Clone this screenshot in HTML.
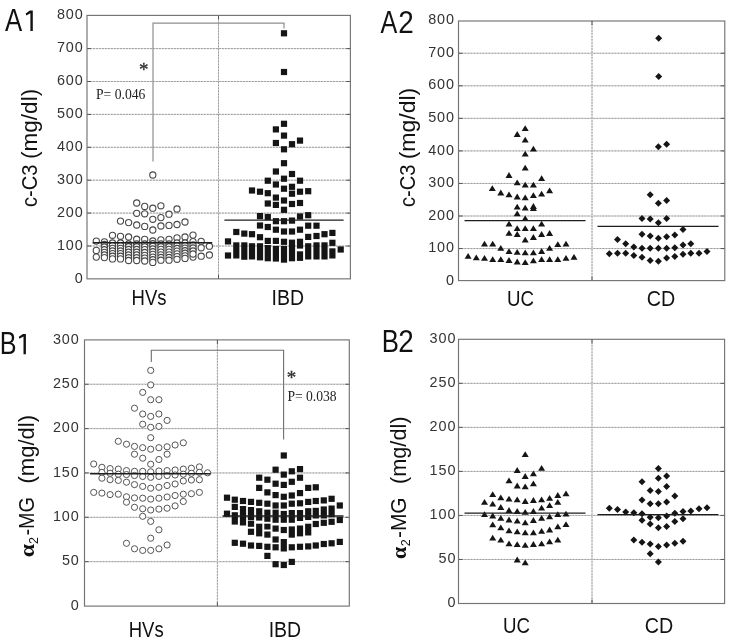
<!DOCTYPE html>
<html><head><meta charset="utf-8"><style>
html,body{margin:0;padding:0;background:#fff;width:731px;height:642px;overflow:hidden}
svg{display:block;font-family:"Liberation Sans",sans-serif;will-change:transform}
</style></head><body>
<svg width="731" height="642" viewBox="0 0 731 642">
<rect width="731" height="642" fill="#fff"/>
<line x1="87" y1="246" x2="350.4" y2="246" stroke="#d6d6d6" stroke-width="1"/>
<line x1="87" y1="246" x2="350.4" y2="246" stroke="#959595" stroke-width="0.9" stroke-dasharray="1.8 1.2"/>
<line x1="87" y1="246" x2="91" y2="246" stroke="#555" stroke-width="1"/>
<line x1="346.4" y1="246" x2="350.4" y2="246" stroke="#555" stroke-width="1"/>
<line x1="87" y1="213.1" x2="350.4" y2="213.1" stroke="#d6d6d6" stroke-width="1"/>
<line x1="87" y1="213.1" x2="350.4" y2="213.1" stroke="#959595" stroke-width="0.9" stroke-dasharray="1.8 1.2"/>
<line x1="87" y1="213.1" x2="91" y2="213.1" stroke="#555" stroke-width="1"/>
<line x1="346.4" y1="213.1" x2="350.4" y2="213.1" stroke="#555" stroke-width="1"/>
<line x1="87" y1="180.2" x2="350.4" y2="180.2" stroke="#d6d6d6" stroke-width="1"/>
<line x1="87" y1="180.2" x2="350.4" y2="180.2" stroke="#959595" stroke-width="0.9" stroke-dasharray="1.8 1.2"/>
<line x1="87" y1="180.2" x2="91" y2="180.2" stroke="#555" stroke-width="1"/>
<line x1="346.4" y1="180.2" x2="350.4" y2="180.2" stroke="#555" stroke-width="1"/>
<line x1="87" y1="147.3" x2="350.4" y2="147.3" stroke="#d6d6d6" stroke-width="1"/>
<line x1="87" y1="147.3" x2="350.4" y2="147.3" stroke="#959595" stroke-width="0.9" stroke-dasharray="1.8 1.2"/>
<line x1="87" y1="147.3" x2="91" y2="147.3" stroke="#555" stroke-width="1"/>
<line x1="346.4" y1="147.3" x2="350.4" y2="147.3" stroke="#555" stroke-width="1"/>
<line x1="87" y1="114.4" x2="350.4" y2="114.4" stroke="#d6d6d6" stroke-width="1"/>
<line x1="87" y1="114.4" x2="350.4" y2="114.4" stroke="#959595" stroke-width="0.9" stroke-dasharray="1.8 1.2"/>
<line x1="87" y1="114.4" x2="91" y2="114.4" stroke="#555" stroke-width="1"/>
<line x1="346.4" y1="114.4" x2="350.4" y2="114.4" stroke="#555" stroke-width="1"/>
<line x1="87" y1="81.5" x2="350.4" y2="81.5" stroke="#d6d6d6" stroke-width="1"/>
<line x1="87" y1="81.5" x2="350.4" y2="81.5" stroke="#959595" stroke-width="0.9" stroke-dasharray="1.8 1.2"/>
<line x1="87" y1="81.5" x2="91" y2="81.5" stroke="#555" stroke-width="1"/>
<line x1="346.4" y1="81.5" x2="350.4" y2="81.5" stroke="#555" stroke-width="1"/>
<line x1="87" y1="48.6" x2="350.4" y2="48.6" stroke="#d6d6d6" stroke-width="1"/>
<line x1="87" y1="48.6" x2="350.4" y2="48.6" stroke="#959595" stroke-width="0.9" stroke-dasharray="1.8 1.2"/>
<line x1="87" y1="48.6" x2="91" y2="48.6" stroke="#555" stroke-width="1"/>
<line x1="346.4" y1="48.6" x2="350.4" y2="48.6" stroke="#555" stroke-width="1"/>
<line x1="218.5" y1="15.4" x2="218.5" y2="278.85" stroke="#d6d6d6" stroke-width="1"/>
<line x1="218.5" y1="15.4" x2="218.5" y2="278.85" stroke="#959595" stroke-width="0.9" stroke-dasharray="1.8 1.2"/>
<line x1="218.5" y1="15.4" x2="218.5" y2="19.4" stroke="#555" stroke-width="1"/>
<line x1="218.5" y1="274.85" x2="218.5" y2="278.85" stroke="#555" stroke-width="1"/>
<rect x="87" y="15.4" width="263.4" height="263.45" fill="none" stroke="#737373" stroke-width="1.15"/>
<line x1="458.5" y1="248.55" x2="724.8" y2="248.55" stroke="#d6d6d6" stroke-width="1"/>
<line x1="458.5" y1="248.55" x2="724.8" y2="248.55" stroke="#959595" stroke-width="0.9" stroke-dasharray="1.8 1.2"/>
<line x1="458.5" y1="248.55" x2="462.5" y2="248.55" stroke="#555" stroke-width="1"/>
<line x1="720.8" y1="248.55" x2="724.8" y2="248.55" stroke="#555" stroke-width="1"/>
<line x1="458.5" y1="216" x2="724.8" y2="216" stroke="#d6d6d6" stroke-width="1"/>
<line x1="458.5" y1="216" x2="724.8" y2="216" stroke="#959595" stroke-width="0.9" stroke-dasharray="1.8 1.2"/>
<line x1="458.5" y1="216" x2="462.5" y2="216" stroke="#555" stroke-width="1"/>
<line x1="720.8" y1="216" x2="724.8" y2="216" stroke="#555" stroke-width="1"/>
<line x1="458.5" y1="183.45" x2="724.8" y2="183.45" stroke="#d6d6d6" stroke-width="1"/>
<line x1="458.5" y1="183.45" x2="724.8" y2="183.45" stroke="#959595" stroke-width="0.9" stroke-dasharray="1.8 1.2"/>
<line x1="458.5" y1="183.45" x2="462.5" y2="183.45" stroke="#555" stroke-width="1"/>
<line x1="720.8" y1="183.45" x2="724.8" y2="183.45" stroke="#555" stroke-width="1"/>
<line x1="458.5" y1="150.9" x2="724.8" y2="150.9" stroke="#d6d6d6" stroke-width="1"/>
<line x1="458.5" y1="150.9" x2="724.8" y2="150.9" stroke="#959595" stroke-width="0.9" stroke-dasharray="1.8 1.2"/>
<line x1="458.5" y1="150.9" x2="462.5" y2="150.9" stroke="#555" stroke-width="1"/>
<line x1="720.8" y1="150.9" x2="724.8" y2="150.9" stroke="#555" stroke-width="1"/>
<line x1="458.5" y1="118.35" x2="724.8" y2="118.35" stroke="#d6d6d6" stroke-width="1"/>
<line x1="458.5" y1="118.35" x2="724.8" y2="118.35" stroke="#959595" stroke-width="0.9" stroke-dasharray="1.8 1.2"/>
<line x1="458.5" y1="118.35" x2="462.5" y2="118.35" stroke="#555" stroke-width="1"/>
<line x1="720.8" y1="118.35" x2="724.8" y2="118.35" stroke="#555" stroke-width="1"/>
<line x1="458.5" y1="85.8" x2="724.8" y2="85.8" stroke="#d6d6d6" stroke-width="1"/>
<line x1="458.5" y1="85.8" x2="724.8" y2="85.8" stroke="#959595" stroke-width="0.9" stroke-dasharray="1.8 1.2"/>
<line x1="458.5" y1="85.8" x2="462.5" y2="85.8" stroke="#555" stroke-width="1"/>
<line x1="720.8" y1="85.8" x2="724.8" y2="85.8" stroke="#555" stroke-width="1"/>
<line x1="458.5" y1="53.25" x2="724.8" y2="53.25" stroke="#d6d6d6" stroke-width="1"/>
<line x1="458.5" y1="53.25" x2="724.8" y2="53.25" stroke="#959595" stroke-width="0.9" stroke-dasharray="1.8 1.2"/>
<line x1="458.5" y1="53.25" x2="462.5" y2="53.25" stroke="#555" stroke-width="1"/>
<line x1="720.8" y1="53.25" x2="724.8" y2="53.25" stroke="#555" stroke-width="1"/>
<line x1="592" y1="21" x2="592" y2="280.6" stroke="#d6d6d6" stroke-width="1"/>
<line x1="592" y1="21" x2="592" y2="280.6" stroke="#959595" stroke-width="0.9" stroke-dasharray="1.8 1.2"/>
<line x1="592" y1="21" x2="592" y2="25" stroke="#555" stroke-width="1"/>
<line x1="592" y1="276.6" x2="592" y2="280.6" stroke="#555" stroke-width="1"/>
<rect x="458.5" y="21" width="266.3" height="259.6" fill="none" stroke="#737373" stroke-width="1.15"/>
<line x1="84.5" y1="561.65" x2="349.3" y2="561.65" stroke="#d6d6d6" stroke-width="1"/>
<line x1="84.5" y1="561.65" x2="349.3" y2="561.65" stroke="#959595" stroke-width="0.9" stroke-dasharray="1.8 1.2"/>
<line x1="84.5" y1="561.65" x2="88.5" y2="561.65" stroke="#555" stroke-width="1"/>
<line x1="345.3" y1="561.65" x2="349.3" y2="561.65" stroke="#555" stroke-width="1"/>
<line x1="84.5" y1="517.3" x2="349.3" y2="517.3" stroke="#d6d6d6" stroke-width="1"/>
<line x1="84.5" y1="517.3" x2="349.3" y2="517.3" stroke="#959595" stroke-width="0.9" stroke-dasharray="1.8 1.2"/>
<line x1="84.5" y1="517.3" x2="88.5" y2="517.3" stroke="#555" stroke-width="1"/>
<line x1="345.3" y1="517.3" x2="349.3" y2="517.3" stroke="#555" stroke-width="1"/>
<line x1="84.5" y1="472.95" x2="349.3" y2="472.95" stroke="#d6d6d6" stroke-width="1"/>
<line x1="84.5" y1="472.95" x2="349.3" y2="472.95" stroke="#959595" stroke-width="0.9" stroke-dasharray="1.8 1.2"/>
<line x1="84.5" y1="472.95" x2="88.5" y2="472.95" stroke="#555" stroke-width="1"/>
<line x1="345.3" y1="472.95" x2="349.3" y2="472.95" stroke="#555" stroke-width="1"/>
<line x1="84.5" y1="428.6" x2="349.3" y2="428.6" stroke="#d6d6d6" stroke-width="1"/>
<line x1="84.5" y1="428.6" x2="349.3" y2="428.6" stroke="#959595" stroke-width="0.9" stroke-dasharray="1.8 1.2"/>
<line x1="84.5" y1="428.6" x2="88.5" y2="428.6" stroke="#555" stroke-width="1"/>
<line x1="345.3" y1="428.6" x2="349.3" y2="428.6" stroke="#555" stroke-width="1"/>
<line x1="84.5" y1="384.25" x2="349.3" y2="384.25" stroke="#d6d6d6" stroke-width="1"/>
<line x1="84.5" y1="384.25" x2="349.3" y2="384.25" stroke="#959595" stroke-width="0.9" stroke-dasharray="1.8 1.2"/>
<line x1="84.5" y1="384.25" x2="88.5" y2="384.25" stroke="#555" stroke-width="1"/>
<line x1="345.3" y1="384.25" x2="349.3" y2="384.25" stroke="#555" stroke-width="1"/>
<line x1="217.4" y1="339.9" x2="217.4" y2="606.1" stroke="#d6d6d6" stroke-width="1"/>
<line x1="217.4" y1="339.9" x2="217.4" y2="606.1" stroke="#959595" stroke-width="0.9" stroke-dasharray="1.8 1.2"/>
<line x1="217.4" y1="339.9" x2="217.4" y2="343.9" stroke="#555" stroke-width="1"/>
<line x1="217.4" y1="602.1" x2="217.4" y2="606.1" stroke="#555" stroke-width="1"/>
<rect x="84.5" y="339.9" width="264.8" height="266.2" fill="none" stroke="#737373" stroke-width="1.15"/>
<line x1="458.5" y1="559.47" x2="724.6" y2="559.47" stroke="#d6d6d6" stroke-width="1"/>
<line x1="458.5" y1="559.47" x2="724.6" y2="559.47" stroke="#959595" stroke-width="0.9" stroke-dasharray="1.8 1.2"/>
<line x1="458.5" y1="559.47" x2="462.5" y2="559.47" stroke="#555" stroke-width="1"/>
<line x1="720.6" y1="559.47" x2="724.6" y2="559.47" stroke="#555" stroke-width="1"/>
<line x1="458.5" y1="515.44" x2="724.6" y2="515.44" stroke="#d6d6d6" stroke-width="1"/>
<line x1="458.5" y1="515.44" x2="724.6" y2="515.44" stroke="#959595" stroke-width="0.9" stroke-dasharray="1.8 1.2"/>
<line x1="458.5" y1="515.44" x2="462.5" y2="515.44" stroke="#555" stroke-width="1"/>
<line x1="720.6" y1="515.44" x2="724.6" y2="515.44" stroke="#555" stroke-width="1"/>
<line x1="458.5" y1="471.41" x2="724.6" y2="471.41" stroke="#d6d6d6" stroke-width="1"/>
<line x1="458.5" y1="471.41" x2="724.6" y2="471.41" stroke="#959595" stroke-width="0.9" stroke-dasharray="1.8 1.2"/>
<line x1="458.5" y1="471.41" x2="462.5" y2="471.41" stroke="#555" stroke-width="1"/>
<line x1="720.6" y1="471.41" x2="724.6" y2="471.41" stroke="#555" stroke-width="1"/>
<line x1="458.5" y1="427.38" x2="724.6" y2="427.38" stroke="#d6d6d6" stroke-width="1"/>
<line x1="458.5" y1="427.38" x2="724.6" y2="427.38" stroke="#959595" stroke-width="0.9" stroke-dasharray="1.8 1.2"/>
<line x1="458.5" y1="427.38" x2="462.5" y2="427.38" stroke="#555" stroke-width="1"/>
<line x1="720.6" y1="427.38" x2="724.6" y2="427.38" stroke="#555" stroke-width="1"/>
<line x1="458.5" y1="383.35" x2="724.6" y2="383.35" stroke="#d6d6d6" stroke-width="1"/>
<line x1="458.5" y1="383.35" x2="724.6" y2="383.35" stroke="#959595" stroke-width="0.9" stroke-dasharray="1.8 1.2"/>
<line x1="458.5" y1="383.35" x2="462.5" y2="383.35" stroke="#555" stroke-width="1"/>
<line x1="720.6" y1="383.35" x2="724.6" y2="383.35" stroke="#555" stroke-width="1"/>
<line x1="592" y1="339.3" x2="592" y2="603.5" stroke="#d6d6d6" stroke-width="1"/>
<line x1="592" y1="339.3" x2="592" y2="603.5" stroke="#959595" stroke-width="0.9" stroke-dasharray="1.8 1.2"/>
<line x1="592" y1="339.3" x2="592" y2="343.3" stroke="#555" stroke-width="1"/>
<line x1="592" y1="599.5" x2="592" y2="603.5" stroke="#555" stroke-width="1"/>
<rect x="458.5" y="339.3" width="266.1" height="264.2" fill="none" stroke="#737373" stroke-width="1.15"/>
<path d="M153 161.5V23.2H284V28.5" fill="none" stroke="#8e8e8e" stroke-width="1.2"/>
<path d="M151.3 362V350.3H283.6V439.5" fill="none" stroke="#6e6e6e" stroke-width="1.1"/>
<circle cx="152.8" cy="175" r="3.1" fill="#fff" stroke="#484848" stroke-width="1.1"/>
<circle cx="136.7" cy="203" r="3.1" fill="#fff" stroke="#484848" stroke-width="1.1"/>
<circle cx="144.7" cy="206.4" r="3.1" fill="#fff" stroke="#484848" stroke-width="1.1"/>
<circle cx="152.8" cy="208.2" r="3.1" fill="#fff" stroke="#484848" stroke-width="1.1"/>
<circle cx="160.9" cy="205.8" r="3.1" fill="#fff" stroke="#484848" stroke-width="1.1"/>
<circle cx="177" cy="209" r="3.1" fill="#fff" stroke="#484848" stroke-width="1.1"/>
<circle cx="136.7" cy="213.3" r="3.1" fill="#fff" stroke="#484848" stroke-width="1.1"/>
<circle cx="144.7" cy="213.8" r="3.1" fill="#fff" stroke="#484848" stroke-width="1.1"/>
<circle cx="169" cy="214.2" r="3.1" fill="#fff" stroke="#484848" stroke-width="1.1"/>
<circle cx="152.8" cy="219.3" r="3.1" fill="#fff" stroke="#484848" stroke-width="1.1"/>
<circle cx="160.9" cy="217.6" r="3.1" fill="#fff" stroke="#484848" stroke-width="1.1"/>
<circle cx="120.5" cy="221.1" r="3.1" fill="#fff" stroke="#484848" stroke-width="1.1"/>
<circle cx="128.6" cy="222.6" r="3.1" fill="#fff" stroke="#484848" stroke-width="1.1"/>
<circle cx="136.7" cy="225" r="3.1" fill="#fff" stroke="#484848" stroke-width="1.1"/>
<circle cx="144.7" cy="226.4" r="3.1" fill="#fff" stroke="#484848" stroke-width="1.1"/>
<circle cx="152.8" cy="230" r="3.1" fill="#fff" stroke="#484848" stroke-width="1.1"/>
<circle cx="160.9" cy="226" r="3.1" fill="#fff" stroke="#484848" stroke-width="1.1"/>
<circle cx="169" cy="225.4" r="3.1" fill="#fff" stroke="#484848" stroke-width="1.1"/>
<circle cx="177" cy="224.5" r="3.1" fill="#fff" stroke="#484848" stroke-width="1.1"/>
<circle cx="185" cy="222" r="3.1" fill="#fff" stroke="#484848" stroke-width="1.1"/>
<circle cx="112.5" cy="235.3" r="3.1" fill="#fff" stroke="#484848" stroke-width="1.1"/>
<circle cx="120.5" cy="236.3" r="3.1" fill="#fff" stroke="#484848" stroke-width="1.1"/>
<circle cx="128.6" cy="237" r="3.1" fill="#fff" stroke="#484848" stroke-width="1.1"/>
<circle cx="136.7" cy="239.2" r="3.1" fill="#fff" stroke="#484848" stroke-width="1.1"/>
<circle cx="144.7" cy="239.4" r="3.1" fill="#fff" stroke="#484848" stroke-width="1.1"/>
<circle cx="160.9" cy="239.8" r="3.1" fill="#fff" stroke="#484848" stroke-width="1.1"/>
<circle cx="169" cy="239.4" r="3.1" fill="#fff" stroke="#484848" stroke-width="1.1"/>
<circle cx="177" cy="237.9" r="3.1" fill="#fff" stroke="#484848" stroke-width="1.1"/>
<circle cx="185" cy="237" r="3.1" fill="#fff" stroke="#484848" stroke-width="1.1"/>
<circle cx="193" cy="235.1" r="3.1" fill="#fff" stroke="#484848" stroke-width="1.1"/>
<circle cx="104.4" cy="241.9" r="3.1" fill="#fff" stroke="#484848" stroke-width="1.1"/>
<circle cx="201.2" cy="241.3" r="3.1" fill="#fff" stroke="#484848" stroke-width="1.1"/>
<circle cx="96.3" cy="241.1" r="3.1" fill="#fff" stroke="#484848" stroke-width="1.1"/>
<circle cx="96.3" cy="250.4" r="3.1" fill="#fff" stroke="#484848" stroke-width="1.1"/>
<circle cx="96.3" cy="257.1" r="3.1" fill="#fff" stroke="#484848" stroke-width="1.1"/>
<circle cx="193" cy="241.6" r="3.1" fill="#fff" stroke="#484848" stroke-width="1.1"/>
<circle cx="193" cy="249.6" r="3.1" fill="#fff" stroke="#484848" stroke-width="1.1"/>
<circle cx="193" cy="257.1" r="3.1" fill="#fff" stroke="#484848" stroke-width="1.1"/>
<circle cx="201.2" cy="247.8" r="3.1" fill="#fff" stroke="#484848" stroke-width="1.1"/>
<circle cx="201.2" cy="256.2" r="3.1" fill="#fff" stroke="#484848" stroke-width="1.1"/>
<circle cx="209.4" cy="246.2" r="3.1" fill="#fff" stroke="#484848" stroke-width="1.1"/>
<circle cx="209.4" cy="255" r="3.1" fill="#fff" stroke="#484848" stroke-width="1.1"/>
<circle cx="104.4" cy="244.5" r="3.1" fill="#fff" stroke="#484848" stroke-width="1.1"/>
<circle cx="104.4" cy="247.12" r="3.1" fill="#fff" stroke="#484848" stroke-width="1.1"/>
<circle cx="104.4" cy="249.74" r="3.1" fill="#fff" stroke="#484848" stroke-width="1.1"/>
<circle cx="104.4" cy="252.36" r="3.1" fill="#fff" stroke="#484848" stroke-width="1.1"/>
<circle cx="104.4" cy="254.98" r="3.1" fill="#fff" stroke="#484848" stroke-width="1.1"/>
<circle cx="104.4" cy="257.6" r="3.1" fill="#fff" stroke="#484848" stroke-width="1.1"/>
<circle cx="112.5" cy="243" r="3.1" fill="#fff" stroke="#484848" stroke-width="1.1"/>
<circle cx="112.5" cy="245.65" r="3.1" fill="#fff" stroke="#484848" stroke-width="1.1"/>
<circle cx="112.5" cy="248.3" r="3.1" fill="#fff" stroke="#484848" stroke-width="1.1"/>
<circle cx="112.5" cy="250.95" r="3.1" fill="#fff" stroke="#484848" stroke-width="1.1"/>
<circle cx="112.5" cy="253.6" r="3.1" fill="#fff" stroke="#484848" stroke-width="1.1"/>
<circle cx="112.5" cy="256.25" r="3.1" fill="#fff" stroke="#484848" stroke-width="1.1"/>
<circle cx="112.5" cy="258.9" r="3.1" fill="#fff" stroke="#484848" stroke-width="1.1"/>
<circle cx="120.5" cy="243" r="3.1" fill="#fff" stroke="#484848" stroke-width="1.1"/>
<circle cx="120.5" cy="245.65" r="3.1" fill="#fff" stroke="#484848" stroke-width="1.1"/>
<circle cx="120.5" cy="248.3" r="3.1" fill="#fff" stroke="#484848" stroke-width="1.1"/>
<circle cx="120.5" cy="250.95" r="3.1" fill="#fff" stroke="#484848" stroke-width="1.1"/>
<circle cx="120.5" cy="253.6" r="3.1" fill="#fff" stroke="#484848" stroke-width="1.1"/>
<circle cx="120.5" cy="256.25" r="3.1" fill="#fff" stroke="#484848" stroke-width="1.1"/>
<circle cx="120.5" cy="258.9" r="3.1" fill="#fff" stroke="#484848" stroke-width="1.1"/>
<circle cx="128.6" cy="244" r="3.1" fill="#fff" stroke="#484848" stroke-width="1.1"/>
<circle cx="128.6" cy="246.75" r="3.1" fill="#fff" stroke="#484848" stroke-width="1.1"/>
<circle cx="128.6" cy="249.5" r="3.1" fill="#fff" stroke="#484848" stroke-width="1.1"/>
<circle cx="128.6" cy="252.25" r="3.1" fill="#fff" stroke="#484848" stroke-width="1.1"/>
<circle cx="128.6" cy="255" r="3.1" fill="#fff" stroke="#484848" stroke-width="1.1"/>
<circle cx="128.6" cy="257.75" r="3.1" fill="#fff" stroke="#484848" stroke-width="1.1"/>
<circle cx="128.6" cy="260.5" r="3.1" fill="#fff" stroke="#484848" stroke-width="1.1"/>
<circle cx="136.7" cy="244" r="3.1" fill="#fff" stroke="#484848" stroke-width="1.1"/>
<circle cx="136.7" cy="246.75" r="3.1" fill="#fff" stroke="#484848" stroke-width="1.1"/>
<circle cx="136.7" cy="249.5" r="3.1" fill="#fff" stroke="#484848" stroke-width="1.1"/>
<circle cx="136.7" cy="252.25" r="3.1" fill="#fff" stroke="#484848" stroke-width="1.1"/>
<circle cx="136.7" cy="255" r="3.1" fill="#fff" stroke="#484848" stroke-width="1.1"/>
<circle cx="136.7" cy="257.75" r="3.1" fill="#fff" stroke="#484848" stroke-width="1.1"/>
<circle cx="136.7" cy="260.5" r="3.1" fill="#fff" stroke="#484848" stroke-width="1.1"/>
<circle cx="144.7" cy="244" r="3.1" fill="#fff" stroke="#484848" stroke-width="1.1"/>
<circle cx="144.7" cy="246.83" r="3.1" fill="#fff" stroke="#484848" stroke-width="1.1"/>
<circle cx="144.7" cy="249.67" r="3.1" fill="#fff" stroke="#484848" stroke-width="1.1"/>
<circle cx="144.7" cy="252.5" r="3.1" fill="#fff" stroke="#484848" stroke-width="1.1"/>
<circle cx="144.7" cy="255.33" r="3.1" fill="#fff" stroke="#484848" stroke-width="1.1"/>
<circle cx="144.7" cy="258.17" r="3.1" fill="#fff" stroke="#484848" stroke-width="1.1"/>
<circle cx="144.7" cy="261" r="3.1" fill="#fff" stroke="#484848" stroke-width="1.1"/>
<circle cx="152.8" cy="241" r="3.1" fill="#fff" stroke="#484848" stroke-width="1.1"/>
<circle cx="152.8" cy="243.68" r="3.1" fill="#fff" stroke="#484848" stroke-width="1.1"/>
<circle cx="152.8" cy="246.35" r="3.1" fill="#fff" stroke="#484848" stroke-width="1.1"/>
<circle cx="152.8" cy="249.02" r="3.1" fill="#fff" stroke="#484848" stroke-width="1.1"/>
<circle cx="152.8" cy="251.7" r="3.1" fill="#fff" stroke="#484848" stroke-width="1.1"/>
<circle cx="152.8" cy="254.38" r="3.1" fill="#fff" stroke="#484848" stroke-width="1.1"/>
<circle cx="152.8" cy="257.05" r="3.1" fill="#fff" stroke="#484848" stroke-width="1.1"/>
<circle cx="152.8" cy="259.72" r="3.1" fill="#fff" stroke="#484848" stroke-width="1.1"/>
<circle cx="152.8" cy="262.4" r="3.1" fill="#fff" stroke="#484848" stroke-width="1.1"/>
<circle cx="160.9" cy="244" r="3.1" fill="#fff" stroke="#484848" stroke-width="1.1"/>
<circle cx="160.9" cy="246.7" r="3.1" fill="#fff" stroke="#484848" stroke-width="1.1"/>
<circle cx="160.9" cy="249.4" r="3.1" fill="#fff" stroke="#484848" stroke-width="1.1"/>
<circle cx="160.9" cy="252.1" r="3.1" fill="#fff" stroke="#484848" stroke-width="1.1"/>
<circle cx="160.9" cy="254.8" r="3.1" fill="#fff" stroke="#484848" stroke-width="1.1"/>
<circle cx="160.9" cy="257.5" r="3.1" fill="#fff" stroke="#484848" stroke-width="1.1"/>
<circle cx="160.9" cy="260.2" r="3.1" fill="#fff" stroke="#484848" stroke-width="1.1"/>
<circle cx="169" cy="244" r="3.1" fill="#fff" stroke="#484848" stroke-width="1.1"/>
<circle cx="169" cy="246.7" r="3.1" fill="#fff" stroke="#484848" stroke-width="1.1"/>
<circle cx="169" cy="249.4" r="3.1" fill="#fff" stroke="#484848" stroke-width="1.1"/>
<circle cx="169" cy="252.1" r="3.1" fill="#fff" stroke="#484848" stroke-width="1.1"/>
<circle cx="169" cy="254.8" r="3.1" fill="#fff" stroke="#484848" stroke-width="1.1"/>
<circle cx="169" cy="257.5" r="3.1" fill="#fff" stroke="#484848" stroke-width="1.1"/>
<circle cx="169" cy="260.2" r="3.1" fill="#fff" stroke="#484848" stroke-width="1.1"/>
<circle cx="177" cy="243" r="3.1" fill="#fff" stroke="#484848" stroke-width="1.1"/>
<circle cx="177" cy="245.72" r="3.1" fill="#fff" stroke="#484848" stroke-width="1.1"/>
<circle cx="177" cy="248.43" r="3.1" fill="#fff" stroke="#484848" stroke-width="1.1"/>
<circle cx="177" cy="251.15" r="3.1" fill="#fff" stroke="#484848" stroke-width="1.1"/>
<circle cx="177" cy="253.87" r="3.1" fill="#fff" stroke="#484848" stroke-width="1.1"/>
<circle cx="177" cy="256.58" r="3.1" fill="#fff" stroke="#484848" stroke-width="1.1"/>
<circle cx="177" cy="259.3" r="3.1" fill="#fff" stroke="#484848" stroke-width="1.1"/>
<circle cx="185" cy="243" r="3.1" fill="#fff" stroke="#484848" stroke-width="1.1"/>
<circle cx="185" cy="245.57" r="3.1" fill="#fff" stroke="#484848" stroke-width="1.1"/>
<circle cx="185" cy="248.13" r="3.1" fill="#fff" stroke="#484848" stroke-width="1.1"/>
<circle cx="185" cy="250.7" r="3.1" fill="#fff" stroke="#484848" stroke-width="1.1"/>
<circle cx="185" cy="253.27" r="3.1" fill="#fff" stroke="#484848" stroke-width="1.1"/>
<circle cx="185" cy="255.83" r="3.1" fill="#fff" stroke="#484848" stroke-width="1.1"/>
<circle cx="185" cy="258.4" r="3.1" fill="#fff" stroke="#484848" stroke-width="1.1"/>
<circle cx="193" cy="245" r="3.1" fill="#fff" stroke="#484848" stroke-width="1.1"/>
<circle cx="193" cy="248" r="3.1" fill="#fff" stroke="#484848" stroke-width="1.1"/>
<circle cx="193" cy="251" r="3.1" fill="#fff" stroke="#484848" stroke-width="1.1"/>
<circle cx="193" cy="254" r="3.1" fill="#fff" stroke="#484848" stroke-width="1.1"/>
<rect x="280.9" y="30.2" width="6.2" height="6.2" fill="#151515"/>
<rect x="280.9" y="68.9" width="6.2" height="6.2" fill="#151515"/>
<rect x="280.9" y="120.7" width="6.2" height="6.2" fill="#151515"/>
<rect x="272.8" y="126.3" width="6.2" height="6.2" fill="#151515"/>
<rect x="280.9" y="132.5" width="6.2" height="6.2" fill="#151515"/>
<rect x="272.8" y="139.9" width="6.2" height="6.2" fill="#151515"/>
<rect x="288.9" y="141.1" width="6.2" height="6.2" fill="#151515"/>
<rect x="296.9" y="137.5" width="6.2" height="6.2" fill="#151515"/>
<rect x="280.9" y="146.2" width="6.2" height="6.2" fill="#151515"/>
<rect x="280.9" y="160.1" width="6.2" height="6.2" fill="#151515"/>
<rect x="272.8" y="168.4" width="6.2" height="6.2" fill="#151515"/>
<rect x="288.9" y="170.9" width="6.2" height="6.2" fill="#151515"/>
<rect x="264.7" y="177.6" width="6.2" height="6.2" fill="#151515"/>
<rect x="280.9" y="175.6" width="6.2" height="6.2" fill="#151515"/>
<rect x="296.9" y="177.6" width="6.2" height="6.2" fill="#151515"/>
<rect x="272.8" y="181.4" width="6.2" height="6.2" fill="#151515"/>
<rect x="288.9" y="183.7" width="6.2" height="6.2" fill="#151515"/>
<rect x="248.9" y="187.4" width="6.2" height="6.2" fill="#151515"/>
<rect x="256.9" y="188.6" width="6.2" height="6.2" fill="#151515"/>
<rect x="264.7" y="190.1" width="6.2" height="6.2" fill="#151515"/>
<rect x="280.9" y="185.6" width="6.2" height="6.2" fill="#151515"/>
<rect x="288.9" y="190.6" width="6.2" height="6.2" fill="#151515"/>
<rect x="296.9" y="188.6" width="6.2" height="6.2" fill="#151515"/>
<rect x="305.1" y="188.1" width="6.2" height="6.2" fill="#151515"/>
<rect x="272.8" y="194.5" width="6.2" height="6.2" fill="#151515"/>
<rect x="280.9" y="197.4" width="6.2" height="6.2" fill="#151515"/>
<rect x="264.7" y="200.4" width="6.2" height="6.2" fill="#151515"/>
<rect x="272.8" y="201.8" width="6.2" height="6.2" fill="#151515"/>
<rect x="288.9" y="200.9" width="6.2" height="6.2" fill="#151515"/>
<rect x="296.9" y="199.9" width="6.2" height="6.2" fill="#151515"/>
<rect x="280.9" y="206.7" width="6.2" height="6.2" fill="#151515"/>
<rect x="256.9" y="213" width="6.2" height="6.2" fill="#151515"/>
<rect x="264.7" y="213.9" width="6.2" height="6.2" fill="#151515"/>
<rect x="296.9" y="213.4" width="6.2" height="6.2" fill="#151515"/>
<rect x="305.1" y="212.1" width="6.2" height="6.2" fill="#151515"/>
<rect x="272.8" y="218.1" width="6.2" height="6.2" fill="#151515"/>
<rect x="280.9" y="218.1" width="6.2" height="6.2" fill="#151515"/>
<rect x="288.9" y="217.5" width="6.2" height="6.2" fill="#151515"/>
<rect x="256.9" y="222.4" width="6.2" height="6.2" fill="#151515"/>
<rect x="264.7" y="223.9" width="6.2" height="6.2" fill="#151515"/>
<rect x="305.1" y="222.6" width="6.2" height="6.2" fill="#151515"/>
<rect x="313.4" y="222.6" width="6.2" height="6.2" fill="#151515"/>
<rect x="272.8" y="226.6" width="6.2" height="6.2" fill="#151515"/>
<rect x="280.9" y="228.4" width="6.2" height="6.2" fill="#151515"/>
<rect x="288.9" y="228.4" width="6.2" height="6.2" fill="#151515"/>
<rect x="296.9" y="226.6" width="6.2" height="6.2" fill="#151515"/>
<rect x="233.2" y="228.9" width="6.2" height="6.2" fill="#151515"/>
<rect x="241.2" y="230.5" width="6.2" height="6.2" fill="#151515"/>
<rect x="248.9" y="231.1" width="6.2" height="6.2" fill="#151515"/>
<rect x="256.9" y="234.1" width="6.2" height="6.2" fill="#151515"/>
<rect x="305.1" y="233.8" width="6.2" height="6.2" fill="#151515"/>
<rect x="313.4" y="232.9" width="6.2" height="6.2" fill="#151515"/>
<rect x="321.4" y="231.1" width="6.2" height="6.2" fill="#151515"/>
<rect x="329.3" y="229.8" width="6.2" height="6.2" fill="#151515"/>
<rect x="224.9" y="238.3" width="6.2" height="6.2" fill="#151515"/>
<rect x="264.7" y="237.8" width="6.2" height="6.2" fill="#151515"/>
<rect x="272.8" y="237.8" width="6.2" height="6.2" fill="#151515"/>
<rect x="280.9" y="238.7" width="6.2" height="6.2" fill="#151515"/>
<rect x="329.3" y="239.7" width="6.2" height="6.2" fill="#151515"/>
<rect x="337.6" y="246.4" width="6.2" height="6.2" fill="#151515"/>
<rect x="224.9" y="252.4" width="6.2" height="6.2" fill="#151515"/>
<rect x="233.2" y="242.3" width="6.2" height="16.2" fill="#151515"/>
<rect x="241.2" y="242.3" width="6.2" height="17.5" fill="#151515"/>
<rect x="248.9" y="243.2" width="6.2" height="16.3" fill="#151515"/>
<rect x="256.9" y="243.2" width="6.2" height="17.2" fill="#151515"/>
<rect x="264.7" y="245" width="6.2" height="16.3" fill="#151515"/>
<rect x="272.8" y="245.9" width="6.2" height="15.7" fill="#151515"/>
<rect x="280.9" y="245.9" width="6.2" height="16.8" fill="#151515"/>
<rect x="288.9" y="239.6" width="6.2" height="21.7" fill="#151515"/>
<rect x="296.9" y="238.7" width="6.2" height="9.9" fill="#151515"/>
<rect x="296.9" y="251.3" width="6.2" height="9.6" fill="#151515"/>
<rect x="305.1" y="243.2" width="6.2" height="16.3" fill="#151515"/>
<rect x="313.4" y="242.3" width="6.2" height="17.2" fill="#151515"/>
<rect x="321.4" y="242.3" width="6.2" height="17.2" fill="#151515"/>
<rect x="329.3" y="248.3" width="6.2" height="10.2" fill="#151515"/>
<path d="M521.7 131.1L525.2 125.3L528.7 131.1Z" fill="#151515"/>
<path d="M513.7 136.9L517.2 131.1L520.7 136.9Z" fill="#151515"/>
<path d="M521.7 142.6L525.2 136.8L528.7 142.6Z" fill="#151515"/>
<path d="M529.9 151.5L533.4 145.7L536.9 151.5Z" fill="#151515"/>
<path d="M521.7 156.6L525.2 150.8L528.7 156.6Z" fill="#151515"/>
<path d="M521.7 170.6L525.2 164.8L528.7 170.6Z" fill="#151515"/>
<path d="M505.5 177.9L509 172.1L512.5 177.9Z" fill="#151515"/>
<path d="M538.1 181.1L541.6 175.3L545.1 181.1Z" fill="#151515"/>
<path d="M513.7 185.3L517.2 179.5L520.7 185.3Z" fill="#151515"/>
<path d="M521.7 187.5L525.2 181.7L528.7 187.5Z" fill="#151515"/>
<path d="M529.9 187.5L533.4 181.7L536.9 187.5Z" fill="#151515"/>
<path d="M488.8 191.1L492.3 185.3L495.8 191.1Z" fill="#151515"/>
<path d="M497.3 195.4L500.8 189.6L504.3 195.4Z" fill="#151515"/>
<path d="M505.5 197.3L509 191.5L512.5 197.3Z" fill="#151515"/>
<path d="M513.7 199.4L517.2 193.6L520.7 199.4Z" fill="#151515"/>
<path d="M521.7 200.2L525.2 194.4L528.7 200.2Z" fill="#151515"/>
<path d="M529.9 198L533.4 192.2L536.9 198Z" fill="#151515"/>
<path d="M538.1 196.5L541.6 190.7L545.1 196.5Z" fill="#151515"/>
<path d="M546.1 193.3L549.6 187.5L553.1 193.3Z" fill="#151515"/>
<path d="M513.7 209.6L517.2 203.8L520.7 209.6Z" fill="#151515"/>
<path d="M521.7 210.5L525.2 204.7L528.7 210.5Z" fill="#151515"/>
<path d="M529.9 208.9L533.4 203.1L536.9 208.9Z" fill="#151515"/>
<path d="M529.9 211.1L533.4 205.3L536.9 211.1Z" fill="#151515"/>
<path d="M513.7 216.2L517.2 210.4L520.7 216.2Z" fill="#151515"/>
<path d="M521.7 221.1L525.2 215.3L528.7 221.1Z" fill="#151515"/>
<path d="M505.5 226.6L509 220.8L512.5 226.6Z" fill="#151515"/>
<path d="M538.1 226.6L541.6 220.8L545.1 226.6Z" fill="#151515"/>
<path d="M513.7 231.1L517.2 225.3L520.7 231.1Z" fill="#151515"/>
<path d="M521.7 231.1L525.2 225.3L528.7 231.1Z" fill="#151515"/>
<path d="M529.9 231.1L533.4 225.3L536.9 231.1Z" fill="#151515"/>
<path d="M505.5 235.7L509 229.9L512.5 235.7Z" fill="#151515"/>
<path d="M513.7 236.9L517.2 231.1L520.7 236.9Z" fill="#151515"/>
<path d="M538.1 236.9L541.6 231.1L545.1 236.9Z" fill="#151515"/>
<path d="M546.1 235.9L549.6 230.1L553.1 235.9Z" fill="#151515"/>
<path d="M529.9 239.9L533.4 234.1L536.9 239.9Z" fill="#151515"/>
<path d="M521.7 242.6L525.2 236.8L528.7 242.6Z" fill="#151515"/>
<path d="M481 246.6L484.5 240.8L488 246.6Z" fill="#151515"/>
<path d="M489.2 246.6L492.7 240.8L496.2 246.6Z" fill="#151515"/>
<path d="M554.3 247.1L557.8 241.3L561.3 247.1Z" fill="#151515"/>
<path d="M562.5 246.6L566 240.8L569.5 246.6Z" fill="#151515"/>
<path d="M497.3 250.8L500.8 245L504.3 250.8Z" fill="#151515"/>
<path d="M546.1 250.8L549.6 245L553.1 250.8Z" fill="#151515"/>
<path d="M505.5 254L509 248.2L512.5 254Z" fill="#151515"/>
<path d="M513.7 254.8L517.2 249L520.7 254.8Z" fill="#151515"/>
<path d="M521.7 255.3L525.2 249.5L528.7 255.3Z" fill="#151515"/>
<path d="M529.9 255.3L533.4 249.5L536.9 255.3Z" fill="#151515"/>
<path d="M538.1 253.9L541.6 248.1L545.1 253.9Z" fill="#151515"/>
<path d="M464.6 258.8L468.1 253L471.6 258.8Z" fill="#151515"/>
<path d="M472.8 260.2L476.3 254.4L479.8 260.2Z" fill="#151515"/>
<path d="M481 260.8L484.5 255L488 260.8Z" fill="#151515"/>
<path d="M489.2 262L492.7 256.2L496.2 262Z" fill="#151515"/>
<path d="M497.3 262L500.8 256.2L504.3 262Z" fill="#151515"/>
<path d="M505.5 262.9L509 257.1L512.5 262.9Z" fill="#151515"/>
<path d="M513.7 264.4L517.2 258.6L520.7 264.4Z" fill="#151515"/>
<path d="M521.7 265.1L525.2 259.3L528.7 265.1Z" fill="#151515"/>
<path d="M529.9 263.3L533.4 257.5L536.9 263.3Z" fill="#151515"/>
<path d="M538.1 262L541.6 256.2L545.1 262Z" fill="#151515"/>
<path d="M546.1 262L549.6 256.2L553.1 262Z" fill="#151515"/>
<path d="M554.3 262L557.8 256.2L561.3 262Z" fill="#151515"/>
<path d="M562.5 260.8L566 255L569.5 260.8Z" fill="#151515"/>
<path d="M570.5 259.7L574 253.9L577.5 259.7Z" fill="#151515"/>
<path d="M658.7 34.8L662.2 38.3L658.7 41.8L655.2 38.3Z" fill="#151515"/>
<path d="M658.7 73.1L662.2 76.6L658.7 80.1L655.2 76.6Z" fill="#151515"/>
<path d="M658.4 143.2L661.9 146.7L658.4 150.2L654.9 146.7Z" fill="#151515"/>
<path d="M666.6 140.7L670.1 144.2L666.6 147.7L663.1 144.2Z" fill="#151515"/>
<path d="M650.2 191.3L653.7 194.8L650.2 198.3L646.7 194.8Z" fill="#151515"/>
<path d="M658.4 199.8L661.9 203.3L658.4 206.8L654.9 203.3Z" fill="#151515"/>
<path d="M666.6 196.9L670.1 200.4L666.6 203.9L663.1 200.4Z" fill="#151515"/>
<path d="M642 215.1L645.5 218.6L642 222.1L638.5 218.6Z" fill="#151515"/>
<path d="M650.2 215.6L653.7 219.1L650.2 222.6L646.7 219.1Z" fill="#151515"/>
<path d="M666.6 215.1L670.1 218.6L666.6 222.1L663.1 218.6Z" fill="#151515"/>
<path d="M658.4 219.3L661.9 222.8L658.4 226.3L654.9 222.8Z" fill="#151515"/>
<path d="M683 226L686.5 229.5L683 233L679.5 229.5Z" fill="#151515"/>
<path d="M642 230.7L645.5 234.2L642 237.7L638.5 234.2Z" fill="#151515"/>
<path d="M650.2 232.5L653.7 236L650.2 239.5L646.7 236Z" fill="#151515"/>
<path d="M658.4 234.7L661.9 238.2L658.4 241.7L654.9 238.2Z" fill="#151515"/>
<path d="M666.6 233.3L670.1 236.8L666.6 240.3L663.1 236.8Z" fill="#151515"/>
<path d="M674.8 231.6L678.3 235.1L674.8 238.6L671.3 235.1Z" fill="#151515"/>
<path d="M617.5 236L621 239.5L617.5 243L614 239.5Z" fill="#151515"/>
<path d="M625.7 240.2L629.2 243.7L625.7 247.2L622.2 243.7Z" fill="#151515"/>
<path d="M690.8 240.2L694.3 243.7L690.8 247.2L687.3 243.7Z" fill="#151515"/>
<path d="M633.8 243.5L637.3 247L633.8 250.5L630.3 247Z" fill="#151515"/>
<path d="M642 244.7L645.5 248.2L642 251.7L638.5 248.2Z" fill="#151515"/>
<path d="M650.2 244.7L653.7 248.2L650.2 251.7L646.7 248.2Z" fill="#151515"/>
<path d="M658.4 244.7L661.9 248.2L658.4 251.7L654.9 248.2Z" fill="#151515"/>
<path d="M666.6 244.7L670.1 248.2L666.6 251.7L663.1 248.2Z" fill="#151515"/>
<path d="M674.8 244.2L678.3 247.7L674.8 251.2L671.3 247.7Z" fill="#151515"/>
<path d="M683 241.6L686.5 245.1L683 248.6L679.5 245.1Z" fill="#151515"/>
<path d="M609.3 250.2L612.8 253.7L609.3 257.2L605.8 253.7Z" fill="#151515"/>
<path d="M617.5 249.8L621 253.3L617.5 256.8L614 253.3Z" fill="#151515"/>
<path d="M625.7 249.8L629.2 253.3L625.7 256.8L622.2 253.3Z" fill="#151515"/>
<path d="M633.8 252L637.3 255.5L633.8 259L630.3 255.5Z" fill="#151515"/>
<path d="M642 253.8L645.5 257.3L642 260.8L638.5 257.3Z" fill="#151515"/>
<path d="M650.2 256.9L653.7 260.4L650.2 263.9L646.7 260.4Z" fill="#151515"/>
<path d="M658.4 257.8L661.9 261.3L658.4 264.8L654.9 261.3Z" fill="#151515"/>
<path d="M666.6 254.4L670.1 257.9L666.6 261.4L663.1 257.9Z" fill="#151515"/>
<path d="M674.8 252.9L678.3 256.4L674.8 259.9L671.3 256.4Z" fill="#151515"/>
<path d="M683 250.7L686.5 254.2L683 257.7L679.5 254.2Z" fill="#151515"/>
<path d="M690.8 249.8L694.3 253.3L690.8 256.8L687.3 253.3Z" fill="#151515"/>
<path d="M699 249.8L702.5 253.3L699 256.8L695.5 253.3Z" fill="#151515"/>
<path d="M707 248L710.5 251.5L707 255L703.5 251.5Z" fill="#151515"/>
<circle cx="150.7" cy="370.4" r="3.1" fill="#fff" stroke="#555" stroke-width="1.0"/>
<circle cx="150.7" cy="384.9" r="3.1" fill="#fff" stroke="#555" stroke-width="1.0"/>
<circle cx="142.7" cy="392.4" r="3.1" fill="#fff" stroke="#555" stroke-width="1.0"/>
<circle cx="150.7" cy="399.7" r="3.1" fill="#fff" stroke="#555" stroke-width="1.0"/>
<circle cx="158.9" cy="399.7" r="3.1" fill="#fff" stroke="#555" stroke-width="1.0"/>
<circle cx="134.5" cy="408.2" r="3.1" fill="#fff" stroke="#555" stroke-width="1.0"/>
<circle cx="142.7" cy="414" r="3.1" fill="#fff" stroke="#555" stroke-width="1.0"/>
<circle cx="150.7" cy="416.4" r="3.1" fill="#fff" stroke="#555" stroke-width="1.0"/>
<circle cx="158.9" cy="414" r="3.1" fill="#fff" stroke="#555" stroke-width="1.0"/>
<circle cx="167.1" cy="420.4" r="3.1" fill="#fff" stroke="#555" stroke-width="1.0"/>
<circle cx="142.7" cy="424.2" r="3.1" fill="#fff" stroke="#555" stroke-width="1.0"/>
<circle cx="150.7" cy="427.3" r="3.1" fill="#fff" stroke="#555" stroke-width="1.0"/>
<circle cx="158.9" cy="426.4" r="3.1" fill="#fff" stroke="#555" stroke-width="1.0"/>
<circle cx="150.7" cy="437.7" r="3.1" fill="#fff" stroke="#555" stroke-width="1.0"/>
<circle cx="118.3" cy="441.3" r="3.1" fill="#fff" stroke="#555" stroke-width="1.0"/>
<circle cx="126.5" cy="444.2" r="3.1" fill="#fff" stroke="#555" stroke-width="1.0"/>
<circle cx="134.5" cy="446.4" r="3.1" fill="#fff" stroke="#555" stroke-width="1.0"/>
<circle cx="142.7" cy="447.7" r="3.1" fill="#fff" stroke="#555" stroke-width="1.0"/>
<circle cx="150.7" cy="449.2" r="3.1" fill="#fff" stroke="#555" stroke-width="1.0"/>
<circle cx="158.9" cy="447.7" r="3.1" fill="#fff" stroke="#555" stroke-width="1.0"/>
<circle cx="167.1" cy="446.8" r="3.1" fill="#fff" stroke="#555" stroke-width="1.0"/>
<circle cx="175.1" cy="445" r="3.1" fill="#fff" stroke="#555" stroke-width="1.0"/>
<circle cx="183.3" cy="442.8" r="3.1" fill="#fff" stroke="#555" stroke-width="1.0"/>
<circle cx="134.5" cy="454.2" r="3.1" fill="#fff" stroke="#555" stroke-width="1.0"/>
<circle cx="167.1" cy="454.2" r="3.1" fill="#fff" stroke="#555" stroke-width="1.0"/>
<circle cx="142.7" cy="458.2" r="3.1" fill="#fff" stroke="#555" stroke-width="1.0"/>
<circle cx="158.9" cy="459.5" r="3.1" fill="#fff" stroke="#555" stroke-width="1.0"/>
<circle cx="150.7" cy="464.2" r="3.1" fill="#fff" stroke="#555" stroke-width="1.0"/>
<circle cx="93.7" cy="464" r="3.1" fill="#fff" stroke="#555" stroke-width="1.0"/>
<circle cx="101.9" cy="467.3" r="3.1" fill="#fff" stroke="#555" stroke-width="1.0"/>
<circle cx="110.1" cy="468.6" r="3.1" fill="#fff" stroke="#555" stroke-width="1.0"/>
<circle cx="118.3" cy="469.1" r="3.1" fill="#fff" stroke="#555" stroke-width="1.0"/>
<circle cx="126.5" cy="470.6" r="3.1" fill="#fff" stroke="#555" stroke-width="1.0"/>
<circle cx="134.5" cy="471.3" r="3.1" fill="#fff" stroke="#555" stroke-width="1.0"/>
<circle cx="142.7" cy="471.3" r="3.1" fill="#fff" stroke="#555" stroke-width="1.0"/>
<circle cx="150.7" cy="471.8" r="3.1" fill="#fff" stroke="#555" stroke-width="1.0"/>
<circle cx="158.9" cy="471" r="3.1" fill="#fff" stroke="#555" stroke-width="1.0"/>
<circle cx="167.1" cy="470.6" r="3.1" fill="#fff" stroke="#555" stroke-width="1.0"/>
<circle cx="175.1" cy="470" r="3.1" fill="#fff" stroke="#555" stroke-width="1.0"/>
<circle cx="183.3" cy="469.1" r="3.1" fill="#fff" stroke="#555" stroke-width="1.0"/>
<circle cx="191.4" cy="468.2" r="3.1" fill="#fff" stroke="#555" stroke-width="1.0"/>
<circle cx="199.4" cy="466.9" r="3.1" fill="#fff" stroke="#555" stroke-width="1.0"/>
<circle cx="207.6" cy="472.8" r="3.1" fill="#fff" stroke="#555" stroke-width="1.0"/>
<circle cx="101.9" cy="472.4" r="3.1" fill="#fff" stroke="#555" stroke-width="1.0"/>
<circle cx="110.1" cy="473.3" r="3.1" fill="#fff" stroke="#555" stroke-width="1.0"/>
<circle cx="118.3" cy="474.2" r="3.1" fill="#fff" stroke="#555" stroke-width="1.0"/>
<circle cx="126.5" cy="474.6" r="3.1" fill="#fff" stroke="#555" stroke-width="1.0"/>
<circle cx="134.5" cy="475.5" r="3.1" fill="#fff" stroke="#555" stroke-width="1.0"/>
<circle cx="142.7" cy="476.4" r="3.1" fill="#fff" stroke="#555" stroke-width="1.0"/>
<circle cx="150.7" cy="477.3" r="3.1" fill="#fff" stroke="#555" stroke-width="1.0"/>
<circle cx="158.9" cy="476.4" r="3.1" fill="#fff" stroke="#555" stroke-width="1.0"/>
<circle cx="167.1" cy="475.5" r="3.1" fill="#fff" stroke="#555" stroke-width="1.0"/>
<circle cx="175.1" cy="475" r="3.1" fill="#fff" stroke="#555" stroke-width="1.0"/>
<circle cx="183.3" cy="474.2" r="3.1" fill="#fff" stroke="#555" stroke-width="1.0"/>
<circle cx="191.4" cy="473.3" r="3.1" fill="#fff" stroke="#555" stroke-width="1.0"/>
<circle cx="199.4" cy="472.4" r="3.1" fill="#fff" stroke="#555" stroke-width="1.0"/>
<circle cx="101.9" cy="478.2" r="3.1" fill="#fff" stroke="#555" stroke-width="1.0"/>
<circle cx="110.1" cy="479.7" r="3.1" fill="#fff" stroke="#555" stroke-width="1.0"/>
<circle cx="118.3" cy="480.4" r="3.1" fill="#fff" stroke="#555" stroke-width="1.0"/>
<circle cx="126.5" cy="482.2" r="3.1" fill="#fff" stroke="#555" stroke-width="1.0"/>
<circle cx="134.5" cy="484.6" r="3.1" fill="#fff" stroke="#555" stroke-width="1.0"/>
<circle cx="142.7" cy="486.4" r="3.1" fill="#fff" stroke="#555" stroke-width="1.0"/>
<circle cx="150.7" cy="488.2" r="3.1" fill="#fff" stroke="#555" stroke-width="1.0"/>
<circle cx="158.9" cy="487.3" r="3.1" fill="#fff" stroke="#555" stroke-width="1.0"/>
<circle cx="167.1" cy="485.5" r="3.1" fill="#fff" stroke="#555" stroke-width="1.0"/>
<circle cx="175.1" cy="484" r="3.1" fill="#fff" stroke="#555" stroke-width="1.0"/>
<circle cx="183.3" cy="481" r="3.1" fill="#fff" stroke="#555" stroke-width="1.0"/>
<circle cx="191.4" cy="480" r="3.1" fill="#fff" stroke="#555" stroke-width="1.0"/>
<circle cx="199.4" cy="479.7" r="3.1" fill="#fff" stroke="#555" stroke-width="1.0"/>
<circle cx="93.7" cy="492.4" r="3.1" fill="#fff" stroke="#555" stroke-width="1.0"/>
<circle cx="101.9" cy="493.1" r="3.1" fill="#fff" stroke="#555" stroke-width="1.0"/>
<circle cx="110.1" cy="494.6" r="3.1" fill="#fff" stroke="#555" stroke-width="1.0"/>
<circle cx="118.3" cy="494.2" r="3.1" fill="#fff" stroke="#555" stroke-width="1.0"/>
<circle cx="126.5" cy="496.8" r="3.1" fill="#fff" stroke="#555" stroke-width="1.0"/>
<circle cx="134.5" cy="497.9" r="3.1" fill="#fff" stroke="#555" stroke-width="1.0"/>
<circle cx="142.7" cy="498.2" r="3.1" fill="#fff" stroke="#555" stroke-width="1.0"/>
<circle cx="150.7" cy="499.1" r="3.1" fill="#fff" stroke="#555" stroke-width="1.0"/>
<circle cx="158.9" cy="498.2" r="3.1" fill="#fff" stroke="#555" stroke-width="1.0"/>
<circle cx="167.1" cy="497" r="3.1" fill="#fff" stroke="#555" stroke-width="1.0"/>
<circle cx="175.1" cy="495.5" r="3.1" fill="#fff" stroke="#555" stroke-width="1.0"/>
<circle cx="183.3" cy="494.2" r="3.1" fill="#fff" stroke="#555" stroke-width="1.0"/>
<circle cx="191.4" cy="493.7" r="3.1" fill="#fff" stroke="#555" stroke-width="1.0"/>
<circle cx="199.4" cy="492.4" r="3.1" fill="#fff" stroke="#555" stroke-width="1.0"/>
<circle cx="126.5" cy="502.2" r="3.1" fill="#fff" stroke="#555" stroke-width="1.0"/>
<circle cx="183.3" cy="501.5" r="3.1" fill="#fff" stroke="#555" stroke-width="1.0"/>
<circle cx="134.5" cy="507.3" r="3.1" fill="#fff" stroke="#555" stroke-width="1.0"/>
<circle cx="142.7" cy="508.8" r="3.1" fill="#fff" stroke="#555" stroke-width="1.0"/>
<circle cx="150.7" cy="510" r="3.1" fill="#fff" stroke="#555" stroke-width="1.0"/>
<circle cx="158.9" cy="509.1" r="3.1" fill="#fff" stroke="#555" stroke-width="1.0"/>
<circle cx="167.1" cy="508.2" r="3.1" fill="#fff" stroke="#555" stroke-width="1.0"/>
<circle cx="175.1" cy="505.9" r="3.1" fill="#fff" stroke="#555" stroke-width="1.0"/>
<circle cx="142.7" cy="516.3" r="3.1" fill="#fff" stroke="#555" stroke-width="1.0"/>
<circle cx="150.7" cy="521.4" r="3.1" fill="#fff" stroke="#555" stroke-width="1.0"/>
<circle cx="158.9" cy="529.8" r="3.1" fill="#fff" stroke="#555" stroke-width="1.0"/>
<circle cx="150.7" cy="538.2" r="3.1" fill="#fff" stroke="#555" stroke-width="1.0"/>
<circle cx="126.5" cy="543.3" r="3.1" fill="#fff" stroke="#555" stroke-width="1.0"/>
<circle cx="134.5" cy="548.8" r="3.1" fill="#fff" stroke="#555" stroke-width="1.0"/>
<circle cx="142.7" cy="550.4" r="3.1" fill="#fff" stroke="#555" stroke-width="1.0"/>
<circle cx="150.7" cy="550.4" r="3.1" fill="#fff" stroke="#555" stroke-width="1.0"/>
<circle cx="158.9" cy="548.8" r="3.1" fill="#fff" stroke="#555" stroke-width="1.0"/>
<circle cx="167.1" cy="545" r="3.1" fill="#fff" stroke="#555" stroke-width="1.0"/>
<rect x="280.7" y="452.4" width="6.2" height="6.2" fill="#151515"/>
<rect x="272.5" y="466.6" width="6.2" height="6.2" fill="#151515"/>
<rect x="280.7" y="471.5" width="6.2" height="6.2" fill="#151515"/>
<rect x="288.7" y="468.2" width="6.2" height="6.2" fill="#151515"/>
<rect x="296.9" y="466" width="6.2" height="6.2" fill="#151515"/>
<rect x="256.1" y="474.6" width="6.2" height="6.2" fill="#151515"/>
<rect x="264.3" y="476.6" width="6.2" height="6.2" fill="#151515"/>
<rect x="296.9" y="474.6" width="6.2" height="6.2" fill="#151515"/>
<rect x="272.5" y="480.6" width="6.2" height="6.2" fill="#151515"/>
<rect x="280.7" y="481.8" width="6.2" height="6.2" fill="#151515"/>
<rect x="288.7" y="478.7" width="6.2" height="6.2" fill="#151515"/>
<rect x="256.1" y="484.8" width="6.2" height="6.2" fill="#151515"/>
<rect x="305.1" y="484.8" width="6.2" height="6.2" fill="#151515"/>
<rect x="312.7" y="484.2" width="6.2" height="6.2" fill="#151515"/>
<rect x="264.3" y="489.3" width="6.2" height="6.2" fill="#151515"/>
<rect x="272.5" y="492" width="6.2" height="6.2" fill="#151515"/>
<rect x="280.7" y="493.7" width="6.2" height="6.2" fill="#151515"/>
<rect x="288.7" y="492.4" width="6.2" height="6.2" fill="#151515"/>
<rect x="296.9" y="490" width="6.2" height="6.2" fill="#151515"/>
<rect x="223.9" y="494.6" width="6.2" height="6.2" fill="#151515"/>
<rect x="231.7" y="496.6" width="6.2" height="6.2" fill="#151515"/>
<rect x="239.9" y="497.9" width="6.2" height="6.2" fill="#151515"/>
<rect x="247.9" y="498.8" width="6.2" height="6.2" fill="#151515"/>
<rect x="256.1" y="499.7" width="6.2" height="6.2" fill="#151515"/>
<rect x="264.3" y="500.6" width="6.2" height="6.2" fill="#151515"/>
<rect x="272.5" y="502.4" width="6.2" height="6.2" fill="#151515"/>
<rect x="280.7" y="502.4" width="6.2" height="6.2" fill="#151515"/>
<rect x="288.7" y="500.6" width="6.2" height="6.2" fill="#151515"/>
<rect x="296.9" y="500.2" width="6.2" height="6.2" fill="#151515"/>
<rect x="305.1" y="498.8" width="6.2" height="6.2" fill="#151515"/>
<rect x="312.7" y="497.9" width="6.2" height="6.2" fill="#151515"/>
<rect x="320.7" y="497.3" width="6.2" height="6.2" fill="#151515"/>
<rect x="328.5" y="495.7" width="6.2" height="6.2" fill="#151515"/>
<rect x="336.7" y="502.4" width="6.2" height="6.2" fill="#151515"/>
<rect x="231.7" y="503.8" width="6.2" height="6.2" fill="#151515"/>
<rect x="223.9" y="510.6" width="6.2" height="6.2" fill="#151515"/>
<rect x="336.7" y="516.9" width="6.2" height="6.2" fill="#151515"/>
<rect x="247.9" y="520.6" width="6.2" height="6.2" fill="#151515"/>
<rect x="247.9" y="528.7" width="6.2" height="6.2" fill="#151515"/>
<rect x="264.3" y="531.5" width="6.2" height="6.2" fill="#151515"/>
<rect x="272.5" y="525.5" width="6.2" height="6.2" fill="#151515"/>
<rect x="272.5" y="536.4" width="6.2" height="6.2" fill="#151515"/>
<rect x="280.7" y="526.9" width="6.2" height="6.2" fill="#151515"/>
<rect x="312.7" y="520.9" width="6.2" height="6.2" fill="#151515"/>
<rect x="320.7" y="519.7" width="6.2" height="6.2" fill="#151515"/>
<rect x="328.5" y="518.7" width="6.2" height="6.2" fill="#151515"/>
<rect x="231.7" y="539.7" width="6.2" height="6.2" fill="#151515"/>
<rect x="239.9" y="540.6" width="6.2" height="6.2" fill="#151515"/>
<rect x="247.9" y="542.4" width="6.2" height="6.2" fill="#151515"/>
<rect x="256.1" y="542.8" width="6.2" height="6.2" fill="#151515"/>
<rect x="264.3" y="543.7" width="6.2" height="6.2" fill="#151515"/>
<rect x="272.5" y="544.2" width="6.2" height="6.2" fill="#151515"/>
<rect x="288.7" y="544.2" width="6.2" height="6.2" fill="#151515"/>
<rect x="296.9" y="543.7" width="6.2" height="6.2" fill="#151515"/>
<rect x="305.1" y="543.3" width="6.2" height="6.2" fill="#151515"/>
<rect x="312.7" y="542.4" width="6.2" height="6.2" fill="#151515"/>
<rect x="320.7" y="540.9" width="6.2" height="6.2" fill="#151515"/>
<rect x="328.5" y="540.2" width="6.2" height="6.2" fill="#151515"/>
<rect x="336.7" y="538.8" width="6.2" height="6.2" fill="#151515"/>
<rect x="264.3" y="552.8" width="6.2" height="6.2" fill="#151515"/>
<rect x="272.5" y="561.1" width="6.2" height="6.2" fill="#151515"/>
<rect x="280.7" y="561.9" width="6.2" height="6.2" fill="#151515"/>
<rect x="288.7" y="558.8" width="6.2" height="6.2" fill="#151515"/>
<rect x="231.7" y="512.2" width="6.2" height="12.4" fill="#151515"/>
<rect x="239.9" y="506" width="6.2" height="19.5" fill="#151515"/>
<rect x="247.9" y="507" width="6.2" height="13" fill="#151515"/>
<rect x="256.1" y="508.2" width="6.2" height="12.4" fill="#151515"/>
<rect x="256.1" y="523.7" width="6.2" height="12.7" fill="#151515"/>
<rect x="264.3" y="509.6" width="6.2" height="12.2" fill="#151515"/>
<rect x="264.3" y="523.7" width="6.2" height="5.8" fill="#151515"/>
<rect x="272.5" y="509.6" width="6.2" height="13.2" fill="#151515"/>
<rect x="280.7" y="510.9" width="6.2" height="11.9" fill="#151515"/>
<rect x="280.7" y="539" width="6.2" height="12.5" fill="#151515"/>
<rect x="288.7" y="510" width="6.2" height="12.8" fill="#151515"/>
<rect x="288.7" y="526.4" width="6.2" height="11.3" fill="#151515"/>
<rect x="296.9" y="510" width="6.2" height="11" fill="#151515"/>
<rect x="296.9" y="525.5" width="6.2" height="10.9" fill="#151515"/>
<rect x="305.1" y="508.2" width="6.2" height="11.8" fill="#151515"/>
<rect x="305.1" y="523.7" width="6.2" height="11.8" fill="#151515"/>
<rect x="312.7" y="507.8" width="6.2" height="10.7" fill="#151515"/>
<rect x="320.7" y="506.4" width="6.2" height="12.1" fill="#151515"/>
<rect x="328.5" y="505.5" width="6.2" height="11.8" fill="#151515"/>
<path d="M521.7 457.1L525.2 451.3L528.7 457.1Z" fill="#151515"/>
<path d="M513.7 472.9L517.2 467.1L520.7 472.9Z" fill="#151515"/>
<path d="M538.1 470.7L541.6 464.9L545.1 470.7Z" fill="#151515"/>
<path d="M529.9 476.2L533.4 470.4L536.9 476.2Z" fill="#151515"/>
<path d="M521.7 478.9L525.2 473.1L528.7 478.9Z" fill="#151515"/>
<path d="M505.5 483.3L509 477.5L512.5 483.3Z" fill="#151515"/>
<path d="M513.7 488.4L517.2 482.6L520.7 488.4Z" fill="#151515"/>
<path d="M521.7 489.3L525.2 483.5L528.7 489.3Z" fill="#151515"/>
<path d="M529.9 486.2L533.4 480.4L536.9 486.2Z" fill="#151515"/>
<path d="M489.2 497.1L492.7 491.3L496.2 497.1Z" fill="#151515"/>
<path d="M497.3 500.2L500.8 494.4L504.3 500.2Z" fill="#151515"/>
<path d="M505.5 501.5L509 495.7L512.5 501.5Z" fill="#151515"/>
<path d="M513.7 502.2L517.2 496.4L520.7 502.2Z" fill="#151515"/>
<path d="M521.7 503.9L525.2 498.1L528.7 503.9Z" fill="#151515"/>
<path d="M529.9 502.9L533.4 497.1L536.9 502.9Z" fill="#151515"/>
<path d="M538.1 502.2L541.6 496.4L545.1 502.2Z" fill="#151515"/>
<path d="M546.1 500.8L549.6 495L553.1 500.8Z" fill="#151515"/>
<path d="M554.3 497.9L557.8 492.1L561.3 497.9Z" fill="#151515"/>
<path d="M562.5 496.2L566 490.4L569.5 496.2Z" fill="#151515"/>
<path d="M481 504.8L484.5 499L488 504.8Z" fill="#151515"/>
<path d="M489.2 506.6L492.7 500.8L496.2 506.6Z" fill="#151515"/>
<path d="M497.3 509.9L500.8 504.1L504.3 509.9Z" fill="#151515"/>
<path d="M538.1 510.6L541.6 504.8L545.1 510.6Z" fill="#151515"/>
<path d="M546.1 508L549.6 502.2L553.1 508Z" fill="#151515"/>
<path d="M554.3 504.8L557.8 499L561.3 504.8Z" fill="#151515"/>
<path d="M505.5 512.9L509 507.1L512.5 512.9Z" fill="#151515"/>
<path d="M513.7 513.9L517.2 508.1L520.7 513.9Z" fill="#151515"/>
<path d="M521.7 514.8L525.2 509L528.7 514.8Z" fill="#151515"/>
<path d="M529.9 513.9L533.4 508.1L536.9 513.9Z" fill="#151515"/>
<path d="M481 517.1L484.5 511.3L488 517.1Z" fill="#151515"/>
<path d="M489.2 518.4L492.7 512.6L496.2 518.4Z" fill="#151515"/>
<path d="M497.3 520.8L500.8 515L504.3 520.8Z" fill="#151515"/>
<path d="M505.5 522.4L509 516.6L512.5 522.4Z" fill="#151515"/>
<path d="M513.7 523.5L517.2 517.7L520.7 523.5Z" fill="#151515"/>
<path d="M521.7 525.3L525.2 519.5L528.7 525.3Z" fill="#151515"/>
<path d="M529.9 522.9L533.4 517.1L536.9 522.9Z" fill="#151515"/>
<path d="M538.1 520.8L541.6 515L545.1 520.8Z" fill="#151515"/>
<path d="M546.1 519.3L549.6 513.5L553.1 519.3Z" fill="#151515"/>
<path d="M554.3 517.1L557.8 511.3L561.3 517.1Z" fill="#151515"/>
<path d="M562.5 516.6L566 510.8L569.5 516.6Z" fill="#151515"/>
<path d="M489.2 527.3L492.7 521.5L496.2 527.3Z" fill="#151515"/>
<path d="M497.3 530.2L500.8 524.4L504.3 530.2Z" fill="#151515"/>
<path d="M554.3 529.3L557.8 523.5L561.3 529.3Z" fill="#151515"/>
<path d="M562.5 527.1L566 521.3L569.5 527.1Z" fill="#151515"/>
<path d="M505.5 533.3L509 527.5L512.5 533.3Z" fill="#151515"/>
<path d="M513.7 534.2L517.2 528.4L520.7 534.2Z" fill="#151515"/>
<path d="M521.7 535.3L525.2 529.5L528.7 535.3Z" fill="#151515"/>
<path d="M529.9 535.3L533.4 529.5L536.9 535.3Z" fill="#151515"/>
<path d="M538.1 533.8L541.6 528L545.1 533.8Z" fill="#151515"/>
<path d="M546.1 532.4L549.6 526.6L553.1 532.4Z" fill="#151515"/>
<path d="M489.2 540.6L492.7 534.8L496.2 540.6Z" fill="#151515"/>
<path d="M497.3 542.6L500.8 536.8L504.3 542.6Z" fill="#151515"/>
<path d="M505.5 546.2L509 540.4L512.5 546.2Z" fill="#151515"/>
<path d="M513.7 547.1L517.2 541.3L520.7 547.1Z" fill="#151515"/>
<path d="M521.7 547.8L525.2 542L528.7 547.8Z" fill="#151515"/>
<path d="M529.9 546.9L533.4 541.1L536.9 546.9Z" fill="#151515"/>
<path d="M538.1 546.2L541.6 540.4L545.1 546.2Z" fill="#151515"/>
<path d="M546.1 544.2L549.6 538.4L553.1 544.2Z" fill="#151515"/>
<path d="M554.3 542.6L557.8 536.8L561.3 542.6Z" fill="#151515"/>
<path d="M513.7 562.4L517.2 556.6L520.7 562.4Z" fill="#151515"/>
<path d="M521.7 565.3L525.2 559.5L528.7 565.3Z" fill="#151515"/>
<path d="M658.4 465.1L661.9 468.6L658.4 472.1L654.9 468.6Z" fill="#151515"/>
<path d="M658.4 474.7L661.9 478.2L658.4 481.7L654.9 478.2Z" fill="#151515"/>
<path d="M666.6 472.5L670.1 476L666.6 479.5L663.1 476Z" fill="#151515"/>
<path d="M642 478.3L645.5 481.8L642 485.3L638.5 481.8Z" fill="#151515"/>
<path d="M666.6 482.9L670.1 486.4L666.6 489.9L663.1 486.4Z" fill="#151515"/>
<path d="M650.2 487.1L653.7 490.6L650.2 494.1L646.7 490.6Z" fill="#151515"/>
<path d="M658.4 488L661.9 491.5L658.4 495L654.9 491.5Z" fill="#151515"/>
<path d="M674.8 492.5L678.3 496L674.8 499.5L671.3 496Z" fill="#151515"/>
<path d="M642 496.5L645.5 500L642 503.5L638.5 500Z" fill="#151515"/>
<path d="M650.2 500.2L653.7 503.7L650.2 507.2L646.7 503.7Z" fill="#151515"/>
<path d="M658.4 500.2L661.9 503.7L658.4 507.2L654.9 503.7Z" fill="#151515"/>
<path d="M666.6 498.4L670.1 501.9L666.6 505.4L663.1 501.9Z" fill="#151515"/>
<path d="M609.3 504.7L612.8 508.2L609.3 511.7L605.8 508.2Z" fill="#151515"/>
<path d="M617.5 506L621 509.5L617.5 513L614 509.5Z" fill="#151515"/>
<path d="M625.7 508.4L629.2 511.9L625.7 515.4L622.2 511.9Z" fill="#151515"/>
<path d="M633.8 509.3L637.3 512.8L633.8 516.3L630.3 512.8Z" fill="#151515"/>
<path d="M642 510.2L645.5 513.7L642 517.2L638.5 513.7Z" fill="#151515"/>
<path d="M674.8 509.8L678.3 513.3L674.8 516.8L671.3 513.3Z" fill="#151515"/>
<path d="M683 508L686.5 511.5L683 515L679.5 511.5Z" fill="#151515"/>
<path d="M690.8 507.5L694.3 511L690.8 514.5L687.3 511Z" fill="#151515"/>
<path d="M699 505.3L702.5 508.8L699 512.3L695.5 508.8Z" fill="#151515"/>
<path d="M707 504.2L710.5 507.7L707 511.2L703.5 507.7Z" fill="#151515"/>
<path d="M650.2 513.7L653.7 517.2L650.2 520.7L646.7 517.2Z" fill="#151515"/>
<path d="M658.4 514.3L661.9 517.8L658.4 521.3L654.9 517.8Z" fill="#151515"/>
<path d="M666.6 512.5L670.1 516L666.6 519.5L663.1 516Z" fill="#151515"/>
<path d="M642 516.8L645.5 520.3L642 523.8L638.5 520.3Z" fill="#151515"/>
<path d="M674.8 518L678.3 521.5L674.8 525L671.3 521.5Z" fill="#151515"/>
<path d="M683 515.3L686.5 518.8L683 522.3L679.5 518.8Z" fill="#151515"/>
<path d="M650.2 520.6L653.7 524.1L650.2 527.6L646.7 524.1Z" fill="#151515"/>
<path d="M658.4 524.3L661.9 527.8L658.4 531.3L654.9 527.8Z" fill="#151515"/>
<path d="M666.6 523.1L670.1 526.6L666.6 530.1L663.1 526.6Z" fill="#151515"/>
<path d="M633.8 536.5L637.3 540L633.8 543.5L630.3 540Z" fill="#151515"/>
<path d="M642 538.7L645.5 542.2L642 545.7L638.5 542.2Z" fill="#151515"/>
<path d="M650.2 540.5L653.7 544L650.2 547.5L646.7 544Z" fill="#151515"/>
<path d="M658.4 542.9L661.9 546.4L658.4 549.9L654.9 546.4Z" fill="#151515"/>
<path d="M666.6 541.5L670.1 545L666.6 548.5L663.1 545Z" fill="#151515"/>
<path d="M674.8 539.8L678.3 543.3L674.8 546.8L671.3 543.3Z" fill="#151515"/>
<path d="M683 537.8L686.5 541.3L683 544.8L679.5 541.3Z" fill="#151515"/>
<path d="M650.2 550.2L653.7 553.7L650.2 557.2L646.7 553.7Z" fill="#151515"/>
<path d="M658.4 558.4L661.9 561.9L658.4 565.4L654.9 561.9Z" fill="#151515"/>
<line x1="92.6" y1="242.8" x2="212.2" y2="242.8" stroke="#1e1e1e" stroke-width="1.4"/>
<line x1="224.4" y1="220.1" x2="343.6" y2="220.1" stroke="#1e1e1e" stroke-width="1.4"/>
<line x1="464.5" y1="220.6" x2="585.5" y2="220.6" stroke="#1e1e1e" stroke-width="1.4"/>
<line x1="597.5" y1="226.4" x2="718.5" y2="226.4" stroke="#1e1e1e" stroke-width="1.4"/>
<line x1="90.1" y1="473.8" x2="210.5" y2="473.8" stroke="#1e1e1e" stroke-width="1.4"/>
<line x1="222.5" y1="516" x2="343.5" y2="516" stroke="#1e1e1e" stroke-width="1.4"/>
<line x1="464.5" y1="513.1" x2="585.5" y2="513.1" stroke="#1e1e1e" stroke-width="1.4"/>
<line x1="597.5" y1="514.6" x2="718.5" y2="514.6" stroke="#1e1e1e" stroke-width="1.4"/>
<text x="83.6" y="282.5" text-anchor="end" font-size="14.4" fill="#333333" letter-spacing="0.9">0</text>
<text x="83.6" y="249.6" text-anchor="end" font-size="14.4" fill="#333333" letter-spacing="0.9">100</text>
<text x="83.6" y="216.7" text-anchor="end" font-size="14.4" fill="#333333" letter-spacing="0.9">200</text>
<text x="83.6" y="183.8" text-anchor="end" font-size="14.4" fill="#333333" letter-spacing="0.9">300</text>
<text x="83.6" y="150.9" text-anchor="end" font-size="14.4" fill="#333333" letter-spacing="0.9">400</text>
<text x="83.6" y="118" text-anchor="end" font-size="14.4" fill="#333333" letter-spacing="0.9">500</text>
<text x="83.6" y="85.1" text-anchor="end" font-size="14.4" fill="#333333" letter-spacing="0.9">600</text>
<text x="83.6" y="52.2" text-anchor="end" font-size="14.4" fill="#333333" letter-spacing="0.9">700</text>
<text x="83.6" y="19.3" text-anchor="end" font-size="14.4" fill="#333333" letter-spacing="0.9">800</text>
<text x="454.9" y="284.7" text-anchor="end" font-size="14.4" fill="#333333" letter-spacing="0.9">0</text>
<text x="454.9" y="252.15" text-anchor="end" font-size="14.4" fill="#333333" letter-spacing="0.9">100</text>
<text x="454.9" y="219.6" text-anchor="end" font-size="14.4" fill="#333333" letter-spacing="0.9">200</text>
<text x="454.9" y="187.05" text-anchor="end" font-size="14.4" fill="#333333" letter-spacing="0.9">300</text>
<text x="454.9" y="154.5" text-anchor="end" font-size="14.4" fill="#333333" letter-spacing="0.9">400</text>
<text x="454.9" y="121.95" text-anchor="end" font-size="14.4" fill="#333333" letter-spacing="0.9">500</text>
<text x="454.9" y="89.4" text-anchor="end" font-size="14.4" fill="#333333" letter-spacing="0.9">600</text>
<text x="454.9" y="56.85" text-anchor="end" font-size="14.4" fill="#333333" letter-spacing="0.9">700</text>
<text x="454.9" y="24.3" text-anchor="end" font-size="14.4" fill="#333333" letter-spacing="0.9">800</text>
<text x="79.7" y="609.6" text-anchor="end" font-size="14.4" fill="#333333" letter-spacing="0.9">0</text>
<text x="79.7" y="565.25" text-anchor="end" font-size="14.4" fill="#333333" letter-spacing="0.9">50</text>
<text x="79.7" y="520.9" text-anchor="end" font-size="14.4" fill="#333333" letter-spacing="0.9">100</text>
<text x="79.7" y="476.55" text-anchor="end" font-size="14.4" fill="#333333" letter-spacing="0.9">150</text>
<text x="79.7" y="432.2" text-anchor="end" font-size="14.4" fill="#333333" letter-spacing="0.9">200</text>
<text x="79.7" y="387.85" text-anchor="end" font-size="14.4" fill="#333333" letter-spacing="0.9">250</text>
<text x="79.7" y="343.5" text-anchor="end" font-size="14.4" fill="#333333" letter-spacing="0.9">300</text>
<text x="456.3" y="607.1" text-anchor="end" font-size="14.4" fill="#333333" letter-spacing="0.9">0</text>
<text x="456.3" y="563.07" text-anchor="end" font-size="14.4" fill="#333333" letter-spacing="0.9">50</text>
<text x="456.3" y="519.04" text-anchor="end" font-size="14.4" fill="#333333" letter-spacing="0.9">100</text>
<text x="456.3" y="475.01" text-anchor="end" font-size="14.4" fill="#333333" letter-spacing="0.9">150</text>
<text x="456.3" y="430.98" text-anchor="end" font-size="14.4" fill="#333333" letter-spacing="0.9">200</text>
<text x="456.3" y="386.95" text-anchor="end" font-size="14.4" fill="#333333" letter-spacing="0.9">250</text>
<text x="456.3" y="342.92" text-anchor="end" font-size="14.4" fill="#333333" letter-spacing="0.9">300</text>
<text x="5.05" y="31" font-size="31" fill="#111111" textLength="17.2" lengthAdjust="spacingAndGlyphs" >A</text>
<path d="M29.9 10.6L32.8 10.6L32.8 30.95L30.4 30.95L30.4 13.3L26.3 15.5L25.7 13.5Z" fill="#111111"/>
<text x="-0.27" y="354.3" font-size="31" fill="#111111" textLength="16.79" lengthAdjust="spacingAndGlyphs" >B</text>
<path d="M23 333.9L25.9 333.9L25.9 354.3L23.5 354.3L23.5 336.6L19.4 338.8L18.8 336.8Z" fill="#111111"/>
<text x="380.45" y="32.7" font-size="31" fill="#111111" textLength="16.8" lengthAdjust="spacingAndGlyphs" >A</text>
<text x="398.2" y="32.7" font-size="31" fill="#111111" textLength="15.5" lengthAdjust="spacingAndGlyphs" >2</text>
<text x="381.79" y="351.8" font-size="31" fill="#111111" textLength="17.17" lengthAdjust="spacingAndGlyphs" >B</text>
<text x="398.2" y="351.8" font-size="31" fill="#111111" textLength="15.5" lengthAdjust="spacingAndGlyphs" >2</text>
<text x="131.5" y="305" font-size="22" fill="#111111" textLength="35" lengthAdjust="spacingAndGlyphs" >HVs</text>
<text x="271.5" y="304.8" font-size="22" fill="#111111" textLength="32.5" lengthAdjust="spacingAndGlyphs" >IBD</text>
<text x="507" y="306" font-size="22" fill="#111111" textLength="27" lengthAdjust="spacingAndGlyphs" >UC</text>
<text x="646.8" y="306" font-size="22" fill="#111111" textLength="28.5" lengthAdjust="spacingAndGlyphs" >CD</text>
<text x="128.7" y="636.7" font-size="22" fill="#111111" textLength="35" lengthAdjust="spacingAndGlyphs" >HVs</text>
<text x="268.7" y="636.7" font-size="22" fill="#111111" textLength="32.5" lengthAdjust="spacingAndGlyphs" >IBD</text>
<text x="503.1" y="633.2" font-size="22" fill="#111111" textLength="27" lengthAdjust="spacingAndGlyphs" >UC</text>
<text x="644.7" y="633" font-size="22" fill="#111111" textLength="28.5" lengthAdjust="spacingAndGlyphs" >CD</text>
<g transform="translate(36.9,0) rotate(-90)" fill="#111111" font-size="22"><text x="-207" y="0" textLength="42.5" lengthAdjust="spacingAndGlyphs">c-C3</text><text x="-159" y="0" textLength="70.2" lengthAdjust="spacingAndGlyphs">(mg/dl)</text></g>
<g transform="translate(414.5,0) rotate(-90)" fill="#111111" font-size="22"><text x="-207" y="0" textLength="42.5" lengthAdjust="spacingAndGlyphs">c-C3</text><text x="-159.3" y="0" textLength="71.5" lengthAdjust="spacingAndGlyphs">(mg/dl)</text></g>
<g transform="translate(34.3,0) rotate(-90)" fill="#111111"><text x="-557.3" y="0" font-family="Liberation Serif" font-weight="bold" font-size="21.5" textLength="13.2" lengthAdjust="spacingAndGlyphs">&#945;</text><text x="-543.9" y="4" font-size="12.5">2</text><text x="-535.5" y="0" font-size="21.5" textLength="38.5" lengthAdjust="spacingAndGlyphs">-MG</text><text x="-483.5" y="0" font-size="21.5" textLength="68.5" lengthAdjust="spacingAndGlyphs">(mg/dl)</text></g>
<g transform="translate(405.8,0) rotate(-90)" fill="#111111"><text x="-559" y="0" font-family="Liberation Serif" font-weight="bold" font-size="21.5" textLength="12.2" lengthAdjust="spacingAndGlyphs">&#945;</text><text x="-546.3" y="4" font-size="12.5">2</text><text x="-538" y="0" font-size="21.5" textLength="40.5" lengthAdjust="spacingAndGlyphs">-MG</text><text x="-484" y="0" font-size="21.5" textLength="67.5" lengthAdjust="spacingAndGlyphs">(mg/dl)</text></g>
<text x="96" y="99.3" font-family='"Liberation Serif", serif' font-size="13.6" fill="#222" textLength="49.4" lengthAdjust="spacingAndGlyphs">P= 0.046</text>
<text x="139" y="75.8" font-family='"Liberation Serif", serif' font-size="19" fill="#333" stroke="#333" stroke-width="0.35">*</text>
<text x="287.4" y="401.1" font-family='"Liberation Serif", serif' font-size="13.6" fill="#222" textLength="49.3" lengthAdjust="spacingAndGlyphs">P= 0.038</text>
<text x="286.7" y="383.6" font-family='"Liberation Serif", serif' font-size="19" fill="#333" stroke="#333" stroke-width="0.35">*</text>
</svg>
</body></html>
